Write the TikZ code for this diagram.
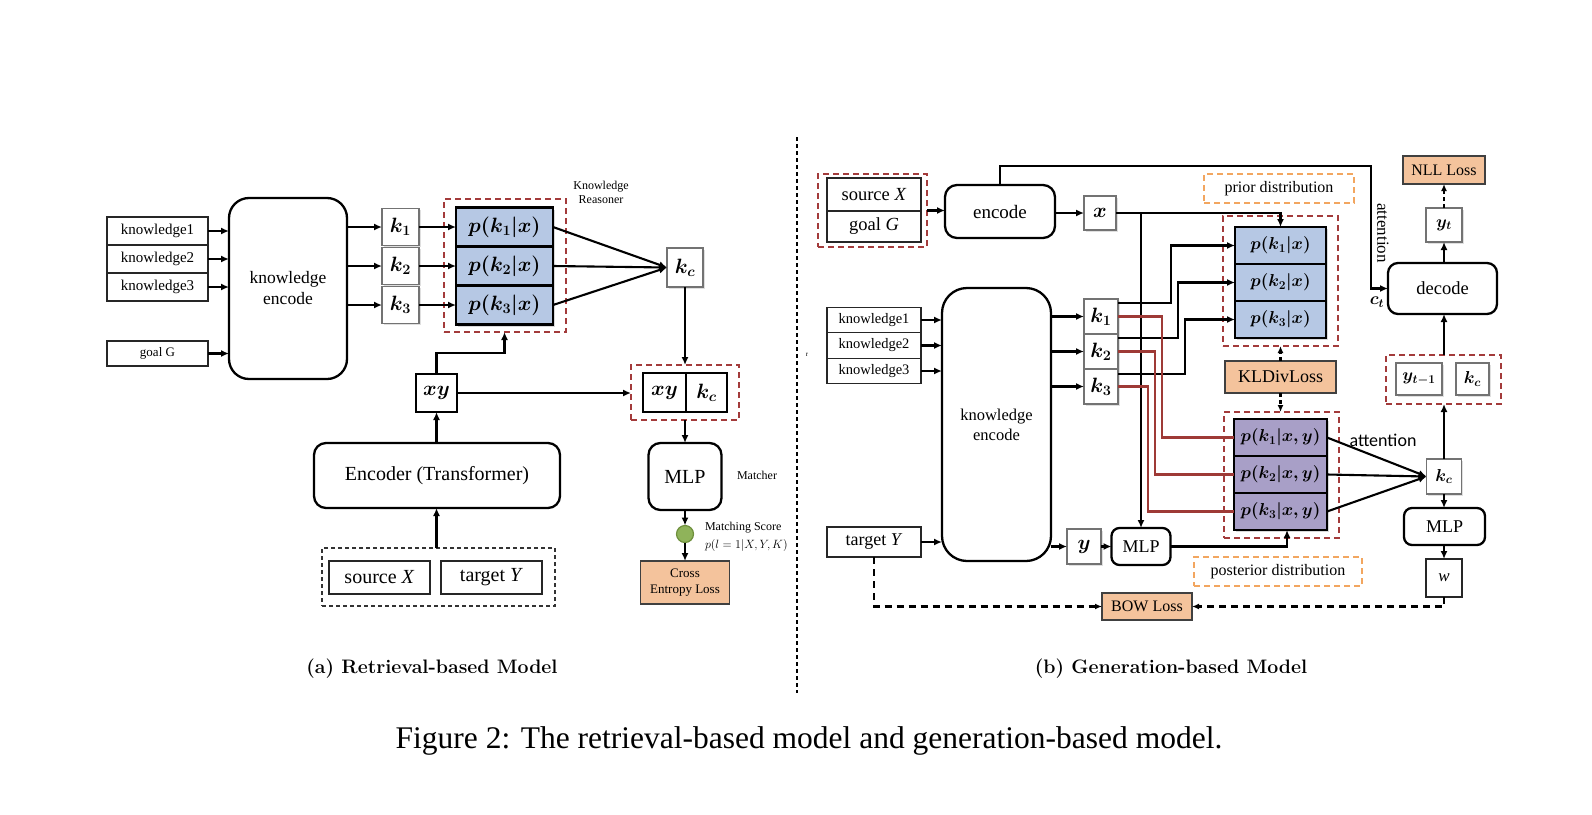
\documentclass[tikz,border=0pt]{standalone}
\usepackage{fontspec}
\newfontfamily\tms{Liberation Serif}
\newfontfamily\crl{Carlito}
\usetikzlibrary{arrows.meta,shadows,calc}
\definecolor{pblue}{HTML}{B6C8E4}
\definecolor{ppur}{HTML}{A89FC7}
\definecolor{lossor}{HTML}{F4C39C}
\definecolor{dred}{HTML}{A33B3B}
\definecolor{dor}{HTML}{F2A660}
\definecolor{lred}{HTML}{9E3A36}
\definecolor{gfill}{HTML}{8FB35A}
\definecolor{gline}{HTML}{6E8F3C}
\tikzset{
  every node/.style={inner sep=0pt, outer sep=0pt},
  tb/.style={draw=black!85, line width=1.3pt, fill=white, font=\tms\fontsize{15}{17}\selectfont, align=center},
  rb/.style={draw=black, line width=2.3pt, fill=white, rounded corners=12pt, align=center},
  kb/.style={draw=black!55, line width=1.4pt, fill=white, drop shadow={shadow xshift=1.5pt,shadow yshift=-1.5pt,opacity=0.25}, font=\fontsize{19.5}{22}\selectfont\boldmath},
  pb/.style={draw=black, line width=2.7pt, fill=pblue, font=\fontsize{19.5}{22}\selectfont\boldmath, drop shadow={shadow xshift=2pt,shadow yshift=-2pt,opacity=0.3}},
  qb/.style={pb, fill=ppur},
  lb/.style={draw=black!75, line width=1.3pt, fill=lossor, align=center},
  rd/.style={draw=dred, line width=2.1pt, dash pattern=on 6pt off 4pt},
  od/.style={draw=dor, line width=2.1pt, dash pattern=on 6pt off 4pt, font=\tms\fontsize{16}{19}\selectfont},
  arr/.style={-{Latex[length=8pt,width=7pt]}, line width=2.1pt},
  darr/.style={-{Latex[length=7pt,width=6pt]}, line width=2.1pt, dash pattern=on 7pt off 5pt},
  rl/.style={draw=lred, line width=2.1pt},
}
\begin{document}
\begin{tikzpicture}[x=1pt,y=-1pt]
\useasboundingbox (0,0) rectangle (1592,814);
% ================= (a) retrieval-based =================
\node[tb,minimum width=101pt,minimum height=28pt] (kn1) at (157.5,231) {knowledge1};
\node[tb,minimum width=101pt,minimum height=28pt] (kn2) at (157.5,259) {knowledge2};
\node[tb,minimum width=101pt,minimum height=28pt] (kn3) at (157.5,287) {knowledge3};
\node[tb,minimum width=101pt,minimum height=25pt,font=\tms\fontsize{13}{15}\selectfont] (goal) at (157.5,353.5) {goal G};
\node[rb,rounded corners=20pt,minimum width=118pt,minimum height=181pt,font=\tms\fontsize{17.5}{21}\selectfont] (kenc) at (288,288.5) {knowledge\\encode};
\foreach \i in {kn1,kn2,kn3,goal} \draw[arr] (\i.east) -- (\i.east -| kenc.west);

\node[kb,minimum width=37pt,minimum height=37pt] (k1L) at (400.5,227) {$k_1$};
\node[kb,minimum width=37pt,minimum height=37pt] (k2L) at (400.5,266) {$k_2$};
\node[kb,minimum width=37pt,minimum height=37pt] (k3L) at (400.5,305) {$k_3$};
\foreach \i in {1,2,3} \draw[arr] (kenc.east |- k\i L.west) -- (k\i L.west);

\node[rd,minimum width=122pt,minimum height=133pt] (redL) at (505,265.5) {};
\node[pb,minimum width=97pt,minimum height=39pt] (pL1) at (504.5,227) {$p(k_1|x)$};
\node[pb,minimum width=97pt,minimum height=39pt] (pL2) at (504.5,266) {$p(k_2|x)$};
\node[pb,minimum width=97pt,minimum height=39pt] (pL3) at (504.5,305) {$p(k_3|x)$};
\foreach \i in {1,2,3} \draw[arr] (k\i L.east) -- (pL\i.west);
\node[font=\tms\fontsize{12}{14}\selectfont,align=center] (kreas) at (601,192) {Knowledge\\Reasoner};

\node[kb,minimum width=36pt,minimum height=39pt] (kcL) at (685,267.5) {$k_c$};
\foreach \i in {1,2,3} \draw[arr] (pL\i.east) -- (kcL.west);

\node[tb,draw=black,line width=2.3pt,minimum width=41pt,minimum height=38pt,font=\fontsize{19.5}{22}\selectfont\boldmath] (xyL) at (436.5,393) {$xy$};
\draw[arr] (xyL.north) -- ++(0,-21) -| (redL.south -| pL3.south);
\node[rd,minimum width=108pt,minimum height=55pt] (redXK) at (685,392.5) {};
\node[tb,draw=black,line width=2.3pt,minimum width=43pt,minimum height=39pt,font=\fontsize{19.5}{22}\selectfont\boldmath] (xyC) at (664.5,392.5) {$xy$};
\node[tb,draw=black,line width=2.3pt,minimum width=41pt,minimum height=39pt,font=\fontsize{19.5}{22}\selectfont\boldmath] (kcC) at (706.5,392.5) {$k_c$};
\draw[arr] (xyL.east) -- (xyL.east -| redXK.west);
\draw[arr] (kcL.south) -- (kcL.south |- redXK.north);

\node[rb,minimum width=246pt,minimum height=65pt,font=\tms\fontsize{20}{24}\selectfont] (encT) at (437,475.5) {Encoder (Transformer)};
\draw[arr] (xyL.south |- encT.north) -- (xyL.south);
\node[draw=black!80,line width=1.1pt,dash pattern=on 4pt off 3pt,minimum width=233pt,minimum height=58pt] (srcT) at (438.5,577) {};
\node[tb,minimum width=101pt,minimum height=33pt,font=\tms\fontsize{20}{24}\selectfont] (srcL) at (379.5,577.5) {source \textit{X}};
\node[tb,minimum width=101pt,minimum height=33pt,font=\tms\fontsize{20}{24}\selectfont] (tgtL) at (491.5,577.5) {target \textit{Y}};
\draw[arr] (xyL.south |- srcT.north) -- (xyL.south |- encT.south);

\node[rb,minimum width=73pt,minimum height=67pt,font=\tms\fontsize{20}{24}\selectfont] (mlpL) at (685,476.5) {MLP};
\draw[arr] (kcL.south |- redXK.south) -- (kcL.south |- mlpL.north);
\node[font=\tms\fontsize{12}{14}\selectfont] (matcher) at (757,475) {Matcher};
\node[circle,draw=gline,fill=gfill,line width=1.2pt,minimum size=17pt] (score) at (685,534) {};
\draw[arr] (mlpL.south) -- (score.north);
\node[lb,minimum width=89pt,minimum height=43pt,font=\tms\fontsize{13}{15.5}\selectfont] (ceL) at (685,582.5) {Cross\\Entropy Loss};
\draw[arr] (score.south) -- (ceL.north);
\node[anchor=west,font=\tms\fontsize{12}{14}\selectfont] (ms) at (705,528) {Matching Score};
\node[anchor=west,font=\fontsize{12}{14}\selectfont] (msf) at (705,545) {$p(l=1|X,Y,K)$};

% divider
\coordinate (dtop) at (797,137);
\coordinate (dbot) at (797,693);
\draw[line width=2.2pt,dash pattern=on 4pt off 3pt] (dtop) -- (dbot);
\node[font=\tms\fontsize{7}{8}\selectfont] (rr) at (807,355) {r};

% ================= (b) generation-based =================
\node[rd,minimum width=109pt,minimum height=73pt] (redSG) at (872.5,210.5) {};
\node[tb,minimum width=94pt,minimum height=33pt,font=\tms\fontsize{18.5}{22}\selectfont] (srcR) at (874,194.5) {source \textit{X}};
\node[tb,minimum width=94pt,minimum height=31pt,font=\tms\fontsize{18.5}{22}\selectfont] (goalR) at (874,226.5) {goal \textit{G}};
\node[rb,minimum width=110pt,minimum height=53pt,font=\tms\fontsize{19}{22}\selectfont] (encR) at (1000,211.5) {encode};
\draw[arr] (redSG.east) -- (redSG.east -| encR.west);
\node[kb,minimum width=32pt,minimum height=34pt] (xR) at (1100,213) {$x$};
\draw[arr] (encR.east |- xR.west) -- (xR.west);

\node[tb,minimum width=94pt,minimum height=25.5pt,font=\tms\fontsize{14.5}{17}\selectfont] (kn1R) at (874,320) {knowledge1};
\node[tb,minimum width=94pt,minimum height=25.5pt,font=\tms\fontsize{14.5}{17}\selectfont] (kn2R) at (874,345.5) {knowledge2};
\node[tb,minimum width=94pt,minimum height=25.5pt,font=\tms\fontsize{14.5}{17}\selectfont] (kn3R) at (874,371) {knowledge3};
\node[rb,rounded corners=25pt,minimum width=109pt,minimum height=273pt,font=\tms\fontsize{16.5}{20}\selectfont] (kencR) at (996.5,424.5) {knowledge\\encode};
\foreach \i in {kn1R,kn2R,kn3R} \draw[arr] (\i.east) -- (\i.east -| kencR.west);

\node[kb,minimum width=34pt,minimum height=35pt] (kR1) at (1101,316.5) {$k_1$};
\node[kb,minimum width=34pt,minimum height=35pt] (kR2) at (1101,351.5) {$k_2$};
\node[kb,minimum width=34pt,minimum height=35pt] (kR3) at (1101,386.5) {$k_3$};
\foreach \i in {1,2,3} \draw[arr] (kencR.east |- kR\i.west) -- (kR\i.west);

\node[tb,minimum width=94pt,minimum height=30pt,font=\tms\fontsize{18}{21}\selectfont] (tgtR) at (874,542) {target \textit{Y}};
\draw[arr] (tgtR.east) -- (tgtR.east -| kencR.west);
\node[kb,minimum width=34pt,minimum height=35pt] (yR) at (1084,546.5) {$y$};
\draw[arr] (kencR.east |- yR.west) -- (yR.west);
\node[rb,rounded corners=8pt,minimum width=59pt,minimum height=37pt,font=\tms\fontsize{18}{21}\selectfont] (mlpR) at (1141,546.5) {MLP};
\draw[arr] (yR.east) -- (mlpR.west);

% prior
\node[od,minimum width=150pt,minimum height=29pt] (prior) at (1279,188.5) {prior distribution};
\node[rd,minimum width=115pt,minimum height=130pt] (redPrior) at (1280.5,281) {};
\node[pb,minimum width=91pt,minimum height=37pt,font=\fontsize{18}{21}\selectfont\boldmath] (pR1) at (1280.5,245.5) {$p(k_1|x)$};
\node[pb,minimum width=91pt,minimum height=37pt,font=\fontsize{18}{21}\selectfont\boldmath] (pR2) at (1280.5,282.5) {$p(k_2|x)$};
\node[pb,minimum width=91pt,minimum height=37pt,font=\fontsize{18}{21}\selectfont\boldmath] (pR3) at (1280.5,319.5) {$p(k_3|x)$};

% posterior
\node[rd,minimum width=115pt,minimum height=126pt] (redPost) at (1281.5,475) {};
\node[qb,minimum width=93pt,minimum height=37pt,font=\fontsize{17.5}{21}\selectfont\boldmath] (qR1) at (1280.5,437.5) {$p(k_1|x,y)$};
\node[qb,minimum width=93pt,minimum height=37pt,font=\fontsize{17.5}{21}\selectfont\boldmath] (qR2) at (1280.5,474.5) {$p(k_2|x,y)$};
\node[qb,minimum width=93pt,minimum height=37pt,font=\fontsize{17.5}{21}\selectfont\boldmath] (qR3) at (1280.5,511.5) {$p(k_3|x,y)$};
\node[od,minimum width=168pt,minimum height=29pt] (post) at (1278,571.5) {posterior distribution};

\node[lb,minimum width=111pt,minimum height=32pt,font=\tms\fontsize{18}{21}\selectfont] (kl) at (1280.5,377) {KLDivLoss};
\draw[darr,dash pattern=on 4pt off 3pt] (kl.north) -- (kl.north |- redPrior.south);
\draw[darr,dash pattern=on 4pt off 3pt] (kl.south) -- (kl.south |- redPost.north);

% x routing
\draw[arr] (xR.east) -| (pR1.north);
\draw[arr] (xR.east -| mlpR.north) -- (mlpR.north);

% k -> prior (black)
\draw[arr] ([yshift=13.5pt]kR1.east) -| ($(pR1.west)+(-64,0)$) -- (pR1.west);
\draw[arr] ([yshift=13.5pt]kR2.east) -| ($(pR2.west)+(-57,0)$) -- (pR2.west);
\draw[arr] ([yshift=12.5pt]kR3.east) -| ($(pR3.west)+(-50,0)$) -- (pR3.west);
% k -> posterior (red)
\draw[rl] (kR1.east) -| ($(qR1.west)+(-72,0)$) -- (qR1.west);
\draw[rl] (kR2.east) -| ($(qR2.west)+(-79,0)$) -- (qR2.west);
\draw[rl] (kR3.east) -| ($(qR3.west)+(-86,0)$) -- (qR3.west);

\draw[arr] (mlpR.east) -| ([xshift=6.5pt]qR3.south);

% decoder column
\node[lb,minimum width=82pt,minimum height=28pt,font=\tms\fontsize{16}{19}\selectfont] (nll) at (1444,170) {NLL Loss};
\node[kb,minimum width=36pt,minimum height=34pt,font=\fontsize{17.5}{20}\selectfont\boldmath] (yt) at (1444,225) {$y_t$};
\node[rb,rounded corners=10pt,minimum width=109pt,minimum height=51pt,font=\tms\fontsize{18.5}{22}\selectfont] (dec) at (1442.5,288.5) {decode};
\node[rd,minimum width=115pt,minimum height=49pt] (redYK) at (1443.5,379.5) {};
\node[kb,minimum width=46pt,minimum height=32pt,font=\fontsize{16.5}{19}\selectfont\boldmath] (ytm) at (1419,379) {$y_{t-1}$};
\node[kb,minimum width=33pt,minimum height=32pt,font=\fontsize{17.5}{20}\selectfont\boldmath] (kc2) at (1472.5,379) {$k_c$};
\node[kb,minimum width=35pt,minimum height=35pt,font=\fontsize{17.5}{20}\selectfont\boldmath] (kcR) at (1444,476.5) {$k_c$};
\node[rb,rounded corners=8pt,minimum width=81pt,minimum height=37pt,font=\tms\fontsize{18}{21}\selectfont] (mlp2) at (1444.5,526.5) {MLP};
\node[tb,minimum width=36pt,minimum height=38pt,font=\tms\fontsize{17}{20}\selectfont] (wR) at (1444,578) {\textit{w}};
\node[lb,minimum width=90pt,minimum height=27pt,font=\tms\fontsize{16}{19}\selectfont] (bow) at (1147,606.5) {BOW Loss};

\draw[arr] (yt.south |- dec.north) -- (yt.south);
\draw[darr,dash pattern=on 4pt off 3pt] (yt.north) -- (nll.south);
\draw[arr] (yt.south |- redYK.north) -- (yt.south |- dec.south);
\draw[arr] (kcR.north) -- (kcR.north |- redYK.south);
\draw[arr] (kcR.south) -- (kcR.south |- mlp2.north);
\draw[arr] (kcR.south |- mlp2.south) -- (wR.north);
\foreach \i in {1,2,3} \draw[arr] (qR\i.east) -- (kcR.west);
\draw[darr] (wR.south) |- (bow.east);
\draw[darr] (tgtR.south) |- (bow.west);

\coordinate (att) at (1371,166);
\draw[arr] (encR.north) |- (att) |- (dec.west);
\node[rotate=-90,font=\tms\fontsize{17}{20}\selectfont] (attlab) at (1383,233) {attention};
\node[font=\fontsize{18}{21}\selectfont\boldmath] (ct) at (1377,302) {$c_t$};
\node[font=\crl\fontsize{18}{21}\selectfont] (att2) at (1383,440) {attention};

% captions
\node[font=\bfseries\fontsize{19.5}{23}\selectfont] (capa) at (432,669) {(a) Retrieval-based Model};
\node[font=\bfseries\fontsize{19.5}{23}\selectfont] (capb) at (1171,669) {(b) Generation-based Model};
\node[font=\tms\fontsize{31.5}{36}\selectfont] (fig) at (809,741) {Figure 2: The retrieval-based model and generation-based model.};
\end{tikzpicture}
\end{document}
